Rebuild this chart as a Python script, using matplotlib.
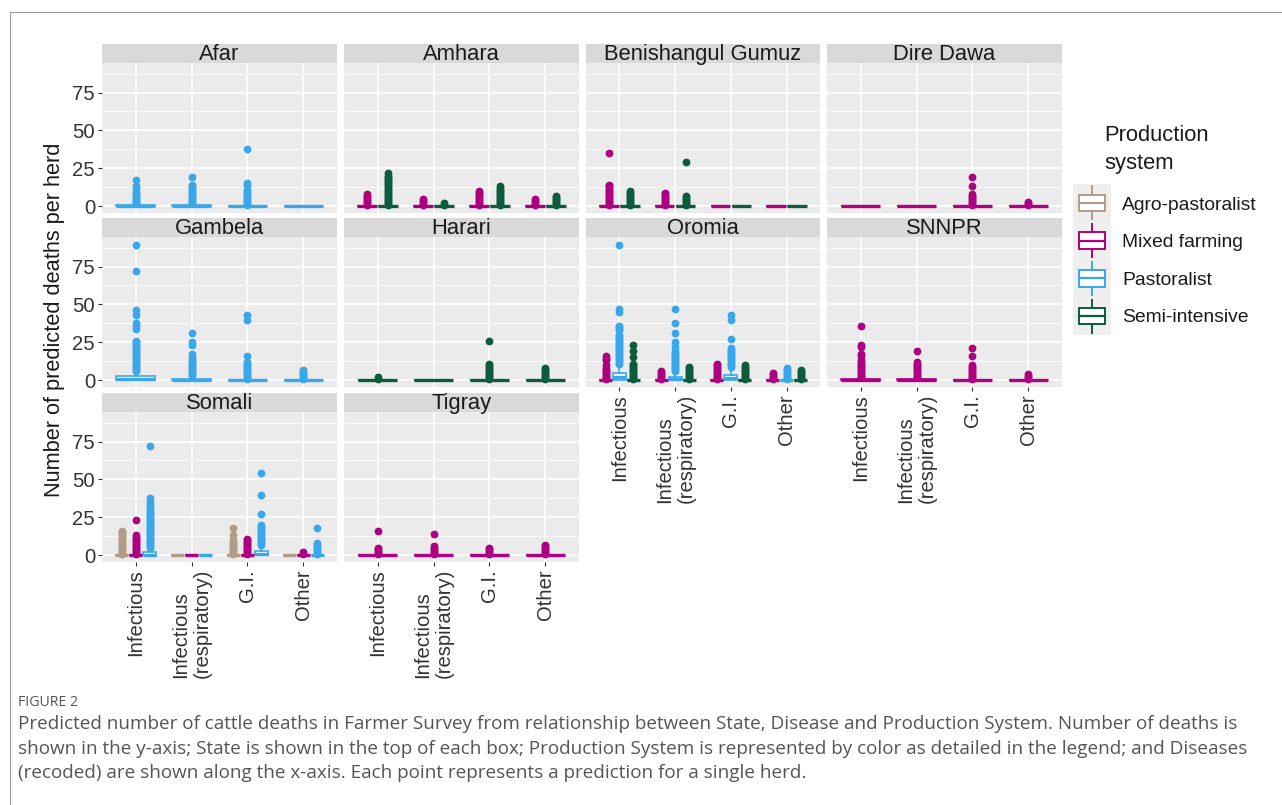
import matplotlib
matplotlib.use("Agg")
import matplotlib.pyplot as plt
import matplotlib.patches as mpatches
from matplotlib.lines import Line2D

plt.rcParams["font.family"] = ["Liberation Sans", "DejaVu Sans"]

# ── data ─────────────────────────────────────────────────────────────────────
DISEASES = ["Infectious", "Infectious\n(respiratory)", "G.I.", "Other"]
SYSTEMS = ["Agro-pastoralist", "Mixed farming", "Pastoralist", "Semi-intensive"]
COLORS = {
    "Agro-pastoralist": "#B39C87",
    "Mixed farming": "#AD0080",
    "Pastoralist": "#39A7EA",
    "Semi-intensive": "#0B5B3C",
}
FLAT = (0, 0, 0, 0)   # (q1, median, q3, upper whisker); lower whisker = 0

AFAR = {
    "Pastoralist": ([(0, 0, 0.6, 1.5), (0, 0, 0.6, 1.5), FLAT, FLAT],
                    [[2, 3, 4, 5, 6, 7, 8, 9, 10, 12, 13, 17],
                     [2, 3, 4, 5, 6, 7, 8, 9, 10, 11, 12, 13, 14, 19],
                     [1, 2, 3, 4, 5, 6, 7, 8, 9, 10, 11, 14, 15, 38],
                     []]),
}
AMHARA = {
    "Mixed farming": ([FLAT] * 4,
                      [[1, 2, 3, 4, 5, 6, 7, 8],
                       [1, 2, 3, 4, 5],
                       [1, 2, 3, 4, 5, 6, 7, 8, 9, 10],
                       [1, 2, 3, 4, 5]]),
    "Semi-intensive": ([FLAT] * 4,
                       [[1, 2, 3, 4, 5, 6, 7, 8, 9, 10, 11, 12, 13, 14, 15, 16, 17, 18, 19, 20, 22],
                        [1, 2],
                        [1, 2, 3, 4, 5, 6, 7, 8, 9, 10, 11, 12, 13],
                        [1, 2, 3, 4, 5, 6, 7]]),
}
BENISHANGUL = {
    "Mixed farming": ([FLAT] * 4,
                      [[1, 2, 3, 4, 5, 6, 7, 8, 9, 10, 11, 12, 13, 14, 35],
                       [1, 2, 3, 4, 5, 6, 7, 8, 9],
                       [], []]),
    "Semi-intensive": ([FLAT] * 4,
                       [[1, 2, 3, 4, 5, 6, 7, 8, 9, 10],
                        [1, 2, 3, 4, 5, 6, 7, 29],
                        [], []]),
}
DIRE_DAWA = {
    "Mixed farming": ([FLAT] * 4,
                      [[], [],
                       [1, 2, 3, 4, 5, 6, 7, 8, 13, 19.5],
                       [1, 2, 3]]),
}
GAMBELA = {
    "Pastoralist": ([(0, 1, 3, 4.5), (0, 0, 1, 2), FLAT, FLAT],
                    [[6, 7, 8, 9, 10, 11, 12, 13, 14, 15, 16, 17, 18, 19, 20, 21, 22, 23, 24,
                      25, 26, 34, 36, 38, 43, 46, 72, 89],
                     [3, 4, 5, 6, 7, 8, 9, 10, 11, 12, 13, 14, 16, 17, 23, 25, 31],
                     [1, 2, 3, 4, 5, 6, 7, 8, 9, 10, 11, 12, 16, 40, 43],
                     [1, 2, 3, 4, 5, 6, 7]]),
}
HARARI = {
    "Semi-intensive": ([FLAT] * 4,
                       [[1, 2],
                        [],
                        [1, 2, 3, 4, 5, 6, 7, 8, 9, 10, 11, 26],
                        [1, 2, 3, 4, 5, 6, 7, 8]]),
}
OROMIA = {
    "Mixed farming": ([FLAT] * 4,
                      [[1, 2, 3, 4, 5, 6, 7, 8, 10, 13, 14, 16],
                       [1, 2, 3, 4, 5, 6],
                       [1, 2, 3, 4, 5, 6, 7, 8, 9, 10, 11],
                       [1, 2, 3, 4, 5]]),
    "Pastoralist": ([(0, 2, 4.5, 10), (0, 0.5, 2.2, 5), (0, 1.5, 3.5, 8), FLAT],
                    [[11, 12, 13, 14, 15, 16, 17, 18, 19, 20, 21, 22, 23, 24, 25, 26, 27, 28,
                      29, 30, 33, 34, 35, 36, 45, 47, 89],
                     [6, 7, 8, 9, 10, 11, 12, 13, 14, 15, 16, 17, 18, 19, 22, 25, 31, 38, 47],
                     [9, 10, 11, 12, 13, 14, 15, 16, 17, 18, 19, 20, 21, 27, 40, 43],
                     [1, 2, 3, 4, 5, 6, 7, 8]]),
    "Semi-intensive": ([FLAT] * 4,
                       [[1, 2, 3, 4, 5, 6, 7, 8, 9, 10, 11, 15, 19, 23],
                        [1, 2, 3, 4, 5, 6, 7, 8, 9],
                        [1, 2, 3, 4, 5, 6, 7, 8, 9, 10],
                        [1, 2, 3, 4, 5, 6, 7]]),
}
SNNPR = {
    "Mixed farming": ([(0, 0, 0.5, 1), (0, 0, 0.5, 1), FLAT, FLAT],
                      [[2, 3, 4, 5, 6, 7, 8, 9, 10, 11, 12, 13, 16, 17, 22, 23, 36],
                       [2, 3, 4, 5, 6, 7, 8, 9, 10, 11, 12, 19],
                       [1, 2, 3, 4, 5, 6, 7, 8, 9, 10, 16, 21],
                       [1, 2, 3, 4]]),
}
SOMALI = {
    "Agro-pastoralist": ([FLAT] * 4,
                         [[1, 2, 3, 4, 5, 6, 7, 8, 9, 10, 11, 12, 13, 14, 15, 16],
                          [],
                          [1, 2, 3, 4, 5, 6, 7, 8, 9, 10, 13, 18],
                          []]),
    "Mixed farming": ([FLAT] * 4,
                      [[1, 2, 3, 4, 5, 6, 7, 8, 9, 10, 11, 12, 13, 23],
                       [],
                       [1, 2, 3, 4, 5, 6, 7, 8, 9, 10, 11],
                       [1, 2]]),
    "Pastoralist": ([(0, 0, 2, 4), FLAT, (0, 0.5, 3, 6), FLAT],
                    [[5, 6, 7, 8, 9, 10, 11, 12, 13, 14, 15, 16, 17, 18, 19, 20, 21, 22, 23, 24,
                      25, 26, 27, 28, 29, 30, 32, 34, 36, 38, 72],
                     [],
                     [7, 8, 9, 10, 11, 12, 13, 14, 15, 16, 17, 18, 19, 20, 27, 40, 54],
                     [1, 2, 3, 4, 5, 6, 7, 8, 18]]),
}
TIGRAY = {
    "Mixed farming": ([FLAT] * 4,
                      [[1, 2, 3, 4, 5, 16],
                       [1, 2, 3, 4, 5, 6, 14],
                       [1, 2, 3, 4, 5],
                       [1, 2, 3, 4, 5, 6, 7]]),
}

STATES = ["Afar", "Amhara", "Benishangul Gumuz", "Dire Dawa", "Gambela",
          "Harari", "Oromia", "SNNPR", "Somali", "Tigray"]
STATE_DATA = [AFAR, AMHARA, BENISHANGUL, DIRE_DAWA, GAMBELA,
              HARARI, OROMIA, SNNPR, SOMALI, TIGRAY]

CAPTION = [
    "Predicted number of cattle deaths in Farmer Survey from relationship between State, Disease and Production System. Number of deaths is",
    "shown in the y-axis; State is shown in the top of each box; Production System is represented by color as detailed in the legend; and Diseases",
    "(recoded) are shown along the x-axis. Each point represents a prediction for a single herd.",
]

# ── layout (pixels) ──────────────────────────────────────────────────────────
W, H = 1282, 805
COLS = [(102, 337), (344, 579), (586, 820), (827, 1062)]
ROWS = [(44, 63, 213), (218, 237, 387), (393, 412, 562)]
PANEL_BG = "#EBEBEB"
STRIP_BG = "#D9D9D9"
TXT = "#1A1A1A"
TICK = "#333333"

fig = plt.figure(figsize=(W / 100, H / 100), dpi=100)
fig.patch.set_facecolor("white")


def px_axes(x0, y0, x1, y1):
    return fig.add_axes([x0 / W, 1 - y1 / H, (x1 - x0) / W, (y1 - y0) / H])


def draw_panel(ax, data):
    systems = [s for s in SYSTEMS if s in data]
    n = len(systems)
    slot = 0.75 / n
    for k, s in enumerate(systems):
        boxes, outs = data[s]
        stats = []
        for (q1, med, q3, hi), fl in zip(boxes, outs):
            stats.append(dict(q1=q1, med=med, q3=q3, whislo=0, whishi=hi, fliers=fl))
        pos = [i + 1 - 0.375 + slot * (k + 0.5) for i in range(4)]
        c = COLORS[s]
        ax.bxp(stats, positions=pos, widths=slot * 0.93, patch_artist=True,
               showcaps=False, manage_ticks=False,
               boxprops=dict(facecolor="white", edgecolor=c, linewidth=1.2),
               medianprops=dict(color=c, linewidth=2.4, solid_capstyle="butt"),
               whiskerprops=dict(color=c, linewidth=1.2),
               flierprops=dict(marker="o", markersize=4.6, markerfacecolor=c,
                               markeredgecolor=c, linestyle="none"))


for idx, (state, data) in enumerate(zip(STATES, STATE_DATA)):
    r, c = divmod(idx, 4)
    x0, x1 = COLS[c]
    ys, yp, yb = ROWS[r]
    # panel
    ax = px_axes(x0, yp, x1, yb)
    ax.set_facecolor(PANEL_BG)
    for sp in ax.spines.values():
        sp.set_visible(False)
    ax.set_xlim(0.4, 4.6)
    ax.set_ylim(-4.5, 94.5)
    ax.set_yticks([0, 25, 50, 75])
    ax.set_yticks([12.5, 37.5, 62.5, 87.5], minor=True)
    ax.set_xticks([1, 2, 3, 4])
    ax.grid(True, which="major", color="white", linewidth=1.1)
    ax.grid(True, which="minor", axis="y", color="white", linewidth=0.55)
    ax.set_axisbelow(True)
    ax.tick_params(which="minor", length=0)
    ax.tick_params(which="major", length=3, width=0.8, color=TICK,
                   labelsize=14.6, labelcolor=TICK, pad=2)
    if c == 0:
        ax.set_yticklabels(["0", "25", "50", "75"])
    else:
        ax.tick_params(axis="y", which="major", length=0, labelleft=False)
    bottom = (r == 2) or (r == 1 and c >= 2)
    if bottom:
        ax.set_xticklabels(DISEASES, rotation=90, ha="center", va="top",
                           multialignment="left")
    else:
        ax.tick_params(axis="x", which="major", length=0, labelbottom=False)
    draw_panel(ax, data)
    # strip (drawn after the panel so the text sits on top)
    sax = px_axes(x0, ys, x1, yp)
    sax.set_facecolor(STRIP_BG)
    sax.set_xticks([]); sax.set_yticks([])
    for sp in sax.spines.values():
        sp.set_visible(False)
    sax.text(0.5, 3.2 / (yp - ys), state, ha="center", va="baseline", fontsize=15.8,
             color=TXT, transform=sax.transAxes, clip_on=False)

fig.text(55 / W, 1 - 320 / H, "Number of predicted deaths per herd", rotation=90,
         ha="center", va="center", fontsize=15.7, color=TXT)

# ── legend ───────────────────────────────────────────────────────────────────
fig.text(1104 / W, 1 - 125 / H, "Production\nsystem", ha="left", va="top",
         fontsize=15.8, color=TXT, linespacing=1.42)
lax = px_axes(1073, 184, 1111, 335)
lax.set_xlim(0, 1)
lax.set_ylim(4, 0)
lax.set_facecolor("#EFEFEF")
lax.set_xticks([]); lax.set_yticks([])
for sp in lax.spines.values():
    sp.set_visible(False)
for k, s in enumerate(SYSTEMS):
    col = COLORS[s]
    cy = k + 0.5
    lax.add_patch(mpatches.Rectangle((0.15, cy - 0.22), 0.7, 0.44, facecolor="white",
                                     edgecolor=col, linewidth=1.4))
    lax.add_line(Line2D([0.15, 0.85], [cy, cy], color=col, linewidth=1.6))
    lax.add_line(Line2D([0.5, 0.5], [k + 0.06, cy - 0.22], color=col, linewidth=1.4))
    lax.add_line(Line2D([0.5, 0.5], [cy + 0.22, k + 0.94], color=col, linewidth=1.4))
    fig.text(1122 / W, 1 - (205 + 37.6 * k) / H, s, ha="left", va="center",
             fontsize=13.9, color=TXT)

# ── caption & frame ──────────────────────────────────────────────────────────
fig.text(18 / W, 1 - 702 / H, "FIGURE 2", ha="left", va="center",
         fontsize=10.2, color="#555555", family="Open Sans")
for k, line in enumerate(CAPTION):
    fig.text(18 / W, 1 - (724 + 24.5 * k) / H, line, ha="left", va="center",
             fontsize=13.6, color="#555555", family="Open Sans")

fig.add_artist(Line2D([10 / W, 10 / W], [0, 1 - 12 / H], transform=fig.transFigure,
                      color="#9A9A9A", linewidth=0.8))
fig.add_artist(Line2D([10 / W, 1], [1 - 12 / H, 1 - 12 / H], transform=fig.transFigure,
                      color="#9A9A9A", linewidth=0.8))

fig.savefig("out.png", dpi=100, facecolor="white")
